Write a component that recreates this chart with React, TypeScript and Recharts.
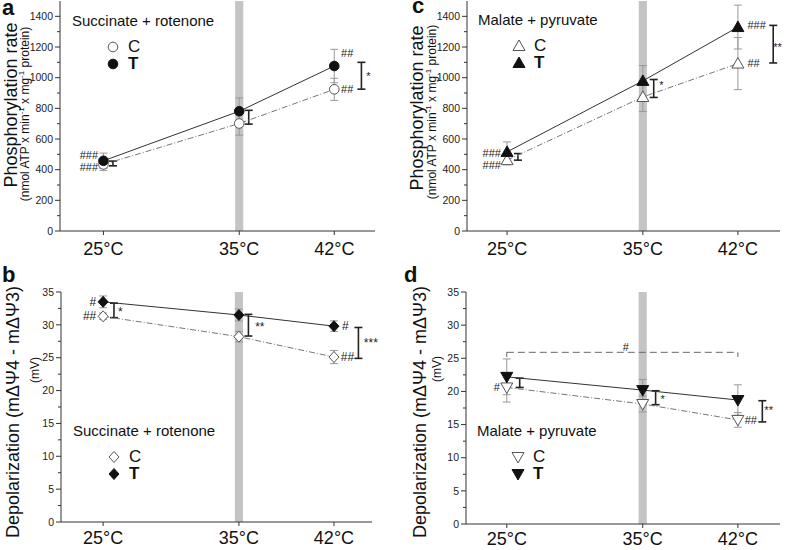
import React from "react";
import {
	ComposedChart,
	Scatter,
	ErrorBar,
	XAxis,
	YAxis,
	ReferenceArea,
	ReferenceLine,
	Legend,
} from "recharts";

const FONT = '"Liberation Sans", Arial, Helvetica, sans-serif';

const temps = [25, 35, 42];
const bandTemp = 35;
const phosTicks = [0, 100, 200, 300, 400, 500, 600, 700, 800, 900, 1000, 1100, 1200, 1300, 1400];
const depolTicks = [0, 2.5, 5, 7.5, 10, 12.5, 15, 17.5, 20, 22.5, 25, 27.5, 30, 32.5, 35];

// a: phosphorylation, succinate + rotenone
const phosSuccC = [434, 701, 924];
const phosSuccCErr = [40, 76, 72];
const phosSuccT = [458, 781, 1076];
const phosSuccTErr = [50, 87, 109];

// b: depolarization, succinate + rotenone
const depolSuccC = [31.3, 28.2, 25.1];
const depolSuccCErr = [0.5, 0.8, 1.0];
const depolSuccT = [33.5, 31.5, 29.8];
const depolSuccTErr = [0.9, 0.9, 0.8];

// c: phosphorylation, malate + pyruvate
const phosMalC = [462, 874, 1092];
const phosMalCErr = [30, 95, 170];
const phosMalT = [516, 979, 1330];
const phosMalTErr = [65, 100, 143];

// d: depolarization, malate + pyruvate
const depolMalC = [20.6, 18.1, 15.7];
const depolMalCErr = [2.2, 1.2, 1.1];
const depolMalT = [22.2, 20.2, 18.7];
const depolMalTErr = [2.7, 1.6, 2.3];

// C vs T comparison brackets
const bracketsA = [
	{ t: 25.7, lo: 425, hi: 456 },
	{ t: 35.7, lo: 697, hi: 787 },
	{ t: 44.0, lo: 925, hi: 1100 },
];
const bracketsB = [
	{ t: 25.8, lo: 31.1, hi: 33.3 },
	{ t: 35.7, lo: 28.3, hi: 31.6 },
	{ t: 43.8, lo: 24.9, hi: 29.6 },
];
const bracketsC = [
	{ t: 25.8, lo: 462, hi: 505 },
	{ t: 35.8, lo: 871, hi: 988 },
	{ t: 44.6, lo: 1096, hi: 1341 },
];
const bracketsD = [
	{ t: 25.95, lo: 20.6, hi: 22.0 },
	{ t: 35.95, lo: 18.0, hi: 20.1 },
	{ t: 43.8, lo: 15.4, hi: 18.6 },
];

// significance marks
const notesA = [
	{ t: 24.6, v: 495, label: "###", anchor: "end" },
	{ t: 24.6, v: 418, label: "###", anchor: "end" },
	{ t: 42.5, v: 1160, label: "##", anchor: "start" },
	{ t: 42.5, v: 925, label: "##", anchor: "start" },
	{ t: 44.35, v: 1010, label: "*", anchor: "start" },
];
const notesB = [
	{ t: 24.5, v: 33.5, label: "#", anchor: "end" },
	{ t: 24.5, v: 31.3, label: "##", anchor: "end" },
	{ t: 26.1, v: 32.0, label: "*", anchor: "start" },
	{ t: 36.2, v: 29.7, label: "**", anchor: "start" },
	{ t: 42.6, v: 29.8, label: "#", anchor: "start" },
	{ t: 42.5, v: 25.1, label: "##", anchor: "start" },
	{ t: 44.2, v: 27.3, label: "***", anchor: "start" },
];
const notesC = [
	{ t: 24.55, v: 506, label: "###", anchor: "end" },
	{ t: 24.55, v: 430, label: "###", anchor: "end" },
	{ t: 36.2, v: 950, label: "*", anchor: "start" },
	{ t: 42.7, v: 1341, label: "###", anchor: "start" },
	{ t: 42.7, v: 1094, label: "##", anchor: "start" },
	{ t: 44.6, v: 1200, label: "**", anchor: "start" },
];
const notesD = [
	{ t: 24.5, v: 20.7, label: "#", anchor: "end" },
	{ t: 36.3, v: 18.9, label: "*", anchor: "start" },
	{ t: 42.5, v: 15.7, label: "##", anchor: "start" },
	{ t: 43.95, v: 17.2, label: "**", anchor: "start" },
	{ t: 33.75, v: 26.7, label: "#", anchor: "middle" },
];
const spanD = { from: 25, to: 42, v: 25.9 };

type Kind = "circle" | "tri" | "diamond" | "tridown";

const rows = (vals: number[], errs: number[]) =>
	temps.map((t, i) => ({ t, v: vals[i], e: errs[i] }));

const Marker = ({ kind, cx, cy, filled }: any) => {
	const fill = filled ? "#111" : "#fff";
	const stroke = filled ? "#111" : "#555";
	if (kind === "circle")
		return <circle cx={cx} cy={cy} r={4.8} fill={fill} stroke={stroke} />;
	if (kind === "diamond")
		return (
			<polygon
				points={`${cx},${cy - 5.5} ${cx + 5},${cy} ${cx},${cy + 5.5} ${cx - 5},${cy}`}
				fill={fill}
				stroke={stroke}
			/>
		);
	if (kind === "tri")
		return (
			<polygon
				points={`${cx},${cy - 6} ${cx + 6},${cy + 4.5} ${cx - 6},${cy + 4.5}`}
				fill={fill}
				stroke={stroke}
			/>
		);
	return (
		<polygon
			points={`${cx},${cy + 6} ${cx + 6},${cy - 4.5} ${cx - 6},${cy - 4.5}`}
			fill={fill}
			stroke={stroke}
		/>
	);
};

const YTick = (props: any) => {
	const { x, y, payload, majorEvery } = props;
	const v = payload.value;
	const major = Math.abs(v / majorEvery - Math.round(v / majorEvery)) < 1e-6;
	return (
		<g>
			<line x1={x} x2={x - (major ? 5 : 3)} y1={y} y2={y} stroke="#333" />
			{major && (
				<text
					x={x - 7}
					y={y}
					dy="0.35em"
					textAnchor="end"
					fontSize={10.5}
					fill="#222"
					fontFamily={FONT}
				>
					{v}
				</text>
			)}
		</g>
	);
};

const PhosTitle = ({ mx, my, sx, sy }: any) => (
	<g fontFamily={FONT} fill="#111">
		<text
			x={mx}
			y={my}
			transform={`rotate(-90 ${mx} ${my})`}
			textAnchor="middle"
			dominantBaseline="central"
			fontSize={18}
		>
			Phosphorylation rate
		</text>
		<text
			x={sx}
			y={sy}
			transform={`rotate(-90 ${sx} ${sy})`}
			textAnchor="middle"
			dominantBaseline="central"
			fontSize={12}
		>
			(nmol ATP x min
			<tspan dy={-4} fontSize={8}>
				-1
			</tspan>
			<tspan dy={4}> x mg</tspan>
			<tspan dy={-4} fontSize={8}>
				-1
			</tspan>
			<tspan dy={4}> protein)</tspan>
		</text>
	</g>
);

const DepolTitle = ({ mx, my, sx, sy }: any) => (
	<g fontFamily={FONT} fill="#111">
		<text
			x={mx}
			y={my}
			transform={`rotate(-90 ${mx} ${my})`}
			textAnchor="middle"
			dominantBaseline="central"
			fontSize={18}
		>
			Depolarization (mΔΨ4 - mΔΨ3)
		</text>
		<text
			x={sx}
			y={sy}
			transform={`rotate(-90 ${sx} ${sy})`}
			textAnchor="middle"
			dominantBaseline="central"
			fontSize={12}
		>
			(mV)
		</text>
	</g>
);

const LegendBox = ({ title, kind }: { title: string; kind: Kind }) => (
	<div style={{ position: "relative", width: 170, height: 64, fontFamily: FONT, color: "#111" }}>
		<div style={{ position: "absolute", left: 0, top: 0, fontSize: 15, lineHeight: "20px", whiteSpace: "nowrap" }}>
			{title}
		</div>
		{[false, true].map((filled, i) => (
			<React.Fragment key={i}>
				<svg
					width={14}
					height={14}
					style={{ position: "absolute", left: 34, top: 29 + i * 17 }}
				>
					<Marker kind={kind} cx={7} cy={7} filled={filled} />
				</svg>
				<div
					style={{
						position: "absolute",
						left: 56,
						top: 28 + i * 17,
						fontSize: 17,
						lineHeight: "16px",
						fontWeight: filled ? "bold" : "normal",
					}}
				>
					{filled ? "T" : "C"}
				</div>
			</React.Fragment>
		))}
	</div>
);

const Panel = (p: any) => {
	const bracketRows = p.brackets.map((b: any) => ({
		t: b.t,
		v: (b.lo + b.hi) / 2,
		e: (b.hi - b.lo) / 2,
	}));
	return (
		<div style={{ position: "absolute", left: p.left, top: p.top }}>
			<ComposedChart
				width={p.width}
				height={p.height}
				margin={{ top: p.marginTop, right: p.marginRight, bottom: 0, left: 0 }}
			>
				<XAxis
					type="number"
					dataKey="t"
					domain={p.xDomain}
					ticks={temps}
					interval={0}
					tickFormatter={(t) => `${t}°C`}
					height={p.xHeight}
					tickSize={4}
					tickMargin={p.xTickMargin}
					stroke="#333"
					tick={{ fontSize: 18, fill: "#111", fontFamily: FONT }}
				/>
				<YAxis
					type="number"
					dataKey="v"
					domain={p.yDomain}
					ticks={p.yTicks}
					interval={0}
					width={p.yWidth}
					tickLine={false}
					tickSize={0}
					tickMargin={0}
					stroke="#333"
					tick={(tp: any) => <YTick {...tp} majorEvery={p.majorEvery} />}
					label={p.yTitle}
				/>
				<ReferenceArea
					x1={bandTemp - 0.3}
					x2={bandTemp + 0.3}
					fill="#c4c4c4"
					fillOpacity={1}
					stroke="none"
				/>
				{p.span && (
					<>
						<ReferenceLine
							segment={[
								{ x: p.span.from, y: p.span.v },
								{ x: p.span.to, y: p.span.v },
							]}
							stroke="#666"
							strokeDasharray="7 4"
						/>
						<ReferenceLine
							segment={[
								{ x: p.span.from, y: p.span.v },
								{ x: p.span.from, y: p.span.v - 0.7 },
							]}
							stroke="#666"
						/>
						<ReferenceLine
							segment={[
								{ x: p.span.to, y: p.span.v },
								{ x: p.span.to, y: p.span.v - 0.7 },
							]}
							stroke="#666"
						/>
					</>
				)}
				<Scatter
					data={p.cData}
					isAnimationActive={false}
					line={{ stroke: "#777", strokeWidth: 1, strokeDasharray: "6 2 1 2" }}
					lineType="joint"
					shape={(s: any) => <Marker kind={p.kind} cx={s.cx} cy={s.cy} filled={false} />}
				>
					<ErrorBar dataKey="e" direction="y" width={4} stroke="#999" strokeWidth={1} />
				</Scatter>
				<Scatter
					data={p.tData}
					isAnimationActive={false}
					line={{ stroke: "#333", strokeWidth: 1 }}
					lineType="joint"
					shape={(s: any) => <Marker kind={p.kind} cx={s.cx} cy={s.cy} filled />}
				>
					<ErrorBar dataKey="e" direction="y" width={4} stroke="#999" strokeWidth={1} />
				</Scatter>
				<Scatter data={bracketRows} isAnimationActive={false} shape={() => <g />}>
					<ErrorBar dataKey="e" direction="y" width={4} stroke="#222" strokeWidth={1.6} />
				</Scatter>
				<Scatter
					data={p.notes}
					isAnimationActive={false}
					shape={(s: any) => (
						<text
							x={s.cx}
							y={s.cy}
							textAnchor={s.payload.anchor}
							dominantBaseline="central"
							fontSize={p.noteSize}
							fill="#222"
							fontFamily={FONT}
						>
							{s.payload.label}
						</text>
					)}
				/>
				<Legend
					layout="horizontal"
					verticalAlign="middle"
					align="center"
					wrapperStyle={{ left: p.legendLeft, top: p.legendTop, width: "auto", height: "auto" }}
					content={() => <LegendBox title={p.title} kind={p.kind} />}
				/>
			</ComposedChart>
		</div>
	);
};

const letterStyle = (left: number, top: number, lh: number): React.CSSProperties => ({
	position: "absolute",
	left,
	top,
	fontFamily: FONT,
	fontWeight: "bold",
	fontSize: 22,
	lineHeight: `${lh}px`,
	color: "#111",
});

export default function App() {
	return (
		<div
			style={{
				position: "absolute",
				left: 0,
				top: 0,
				width: 787,
				height: 550,
				background: "#fff",
				overflow: "hidden",
			}}
		>
			<Panel
				left={0}
				top={0}
				width={393}
				height={270}
				marginTop={1}
				marginRight={18}
				yWidth={60}
				xHeight={39}
				xTickMargin={7}
				xDomain={[21.8, 45.0]}
				yDomain={[0, 1500]}
				yTicks={phosTicks}
				majorEvery={200}
				cData={rows(phosSuccC, phosSuccCErr)}
				tData={rows(phosSuccT, phosSuccTErr)}
				brackets={bracketsA}
				notes={notesA}
				noteSize={11}
				kind="circle"
				title="Succinate + rotenone"
				legendLeft={72}
				legendTop={11}
				yTitle={<PhosTitle mx={11} my={105} sx={25} sy={114} />}
			/>
			<Panel
				left={0}
				top={270}
				width={393}
				height={280}
				marginTop={22}
				marginRight={21}
				yWidth={61}
				xHeight={28}
				xTickMargin={5}
				xDomain={[21.9, 44.8]}
				yDomain={[0, 35]}
				yTicks={depolTicks}
				majorEvery={5}
				cData={rows(depolSuccC, depolSuccCErr)}
				tData={rows(depolSuccT, depolSuccTErr)}
				brackets={bracketsB}
				notes={notesB}
				noteSize={12}
				kind="diamond"
				title="Succinate + rotenone"
				legendLeft={73}
				legendTop={151}
				yTitle={<DepolTitle mx={13} my={142} sx={35} sy={100} />}
			/>
			<Panel
				left={393}
				top={0}
				width={394}
				height={270}
				marginTop={1}
				marginRight={7}
				yWidth={74}
				xHeight={39}
				xTickMargin={7}
				xDomain={[22.05, 45.1]}
				yDomain={[0, 1500]}
				yTicks={phosTicks}
				majorEvery={200}
				cData={rows(phosMalC, phosMalCErr)}
				tData={rows(phosMalT, phosMalTErr)}
				brackets={bracketsC}
				notes={notesC}
				noteSize={11}
				kind="tri"
				title="Malate + pyruvate"
				legendLeft={85}
				legendTop={10}
				yTitle={<PhosTitle mx={24} my={108} sx={39} sy={112} />}
			/>
			<Panel
				left={393}
				top={270}
				width={394}
				height={280}
				marginTop={22}
				marginRight={7}
				yWidth={73}
				xHeight={26}
				xTickMargin={4}
				xDomain={[22.0, 45.1]}
				yDomain={[0, 35]}
				yTicks={depolTicks}
				majorEvery={5}
				cData={rows(depolMalC, depolMalCErr)}
				tData={rows(depolMalT, depolMalTErr)}
				brackets={bracketsD}
				notes={notesD}
				noteSize={11}
				kind="tridown"
				title="Malate + pyruvate"
				legendLeft={84}
				legendTop={151}
				span={spanD}
				yTitle={<DepolTitle mx={27} my={142} sx={44} sy={99} />}
			/>
			<div style={letterStyle(2, 0, 16)}>a</div>
			<div style={letterStyle(2, 264, 22)}>b</div>
			<div style={letterStyle(412, 0, 12)}>c</div>
			<div style={letterStyle(404, 264, 22)}>d</div>
		</div>
	);
}
